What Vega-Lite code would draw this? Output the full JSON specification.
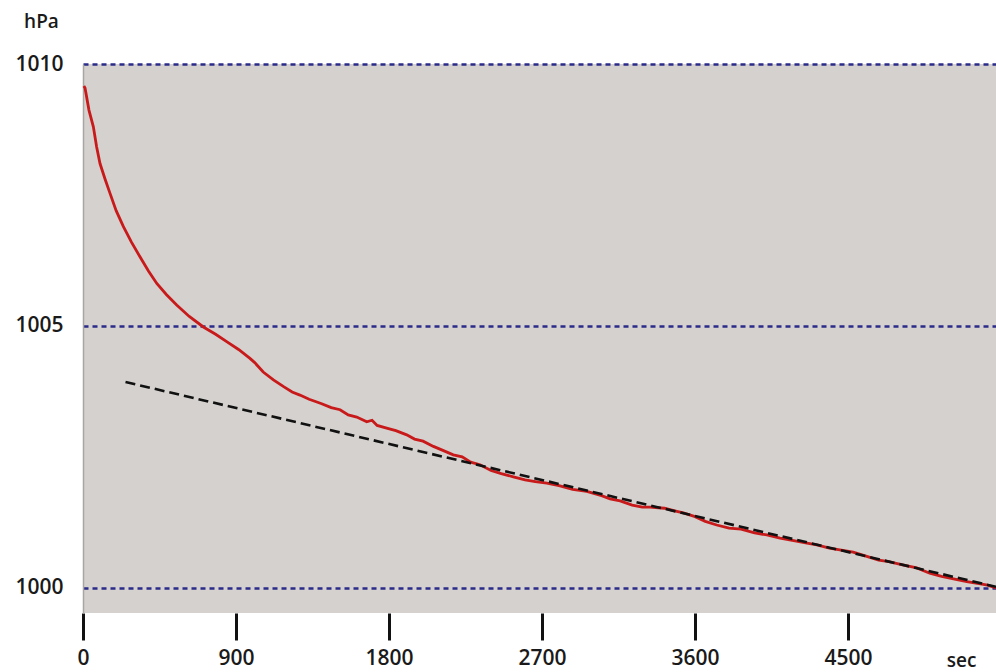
{
  "$schema": "https://vega.github.io/schema/vega-lite/v6.json",
  "width": 913,
  "height": 549,
  "autosize": {"type": "none"},
  "padding": {"left": 83, "top": 64, "right": 0, "bottom": 59},
  "background": "white",
  "view": {"fill": "#d4d1ce", "stroke": null},
  "config": {
    "font": "Open Sans",
    "axis": {"labelFont": "Open Sans", "labelFontWeight": 600, "labelFontSize": 21, "labelColor": "#1a1a1a", "titleFont": "Open Sans", "titleFontWeight": 600, "titleFontSize": 19, "titleColor": "#1a1a1a"}
  },
  "datasets": {
    "curve": [
      {"t": 5, "p": 1009.58}, {"t": 12, "p": 1009.54}, {"t": 35, "p": 1009.12}, {"t": 61, "p": 1008.80}, {"t": 80, "p": 1008.42},
      {"t": 100, "p": 1008.10}, {"t": 130, "p": 1007.80}, {"t": 159, "p": 1007.53}, {"t": 195, "p": 1007.20}, {"t": 237, "p": 1006.90},
      {"t": 285, "p": 1006.60}, {"t": 335, "p": 1006.32}, {"t": 385, "p": 1006.05}, {"t": 434, "p": 1005.81}, {"t": 490, "p": 1005.60},
      {"t": 551, "p": 1005.40}, {"t": 625, "p": 1005.18}, {"t": 708, "p": 1004.98}, {"t": 780, "p": 1004.84}, {"t": 845, "p": 1004.70},
      {"t": 915, "p": 1004.55}, {"t": 982, "p": 1004.38}, {"t": 1010, "p": 1004.30}, {"t": 1060, "p": 1004.12}, {"t": 1120, "p": 1003.97},
      {"t": 1180, "p": 1003.84}, {"t": 1230, "p": 1003.74}, {"t": 1276, "p": 1003.68}, {"t": 1330, "p": 1003.60}, {"t": 1400, "p": 1003.52},
      {"t": 1460, "p": 1003.44}, {"t": 1512, "p": 1003.40}, {"t": 1560, "p": 1003.30}, {"t": 1610, "p": 1003.26}, {"t": 1669, "p": 1003.17},
      {"t": 1700, "p": 1003.20}, {"t": 1730, "p": 1003.10}, {"t": 1786, "p": 1003.05}, {"t": 1840, "p": 1003.00}, {"t": 1904, "p": 1002.92},
      {"t": 1950, "p": 1002.84}, {"t": 2000, "p": 1002.80}, {"t": 2061, "p": 1002.70}, {"t": 2120, "p": 1002.62}, {"t": 2178, "p": 1002.54},
      {"t": 2230, "p": 1002.50}, {"t": 2280, "p": 1002.40}, {"t": 2335, "p": 1002.35}, {"t": 2400, "p": 1002.24}, {"t": 2460, "p": 1002.18},
      {"t": 2531, "p": 1002.12}, {"t": 2600, "p": 1002.06}, {"t": 2660, "p": 1002.03}, {"t": 2728, "p": 1002.00}, {"t": 2800, "p": 1001.95},
      {"t": 2880, "p": 1001.88}, {"t": 2963, "p": 1001.84}, {"t": 3050, "p": 1001.76}, {"t": 3100, "p": 1001.70}, {"t": 3159, "p": 1001.66},
      {"t": 3230, "p": 1001.58}, {"t": 3290, "p": 1001.54}, {"t": 3335, "p": 1001.54}, {"t": 3420, "p": 1001.52}, {"t": 3480, "p": 1001.47},
      {"t": 3531, "p": 1001.43}, {"t": 3600, "p": 1001.36}, {"t": 3660, "p": 1001.27}, {"t": 3727, "p": 1001.20}, {"t": 3800, "p": 1001.14},
      {"t": 3870, "p": 1001.12}, {"t": 3950, "p": 1001.05}, {"t": 4022, "p": 1001.01}, {"t": 4100, "p": 1000.95}, {"t": 4180, "p": 1000.90},
      {"t": 4250, "p": 1000.86}, {"t": 4316, "p": 1000.82}, {"t": 4390, "p": 1000.76}, {"t": 4460, "p": 1000.72}, {"t": 4530, "p": 1000.68},
      {"t": 4610, "p": 1000.60}, {"t": 4680, "p": 1000.53}, {"t": 4740, "p": 1000.50}, {"t": 4820, "p": 1000.44}, {"t": 4904, "p": 1000.38},
      {"t": 4980, "p": 1000.28}, {"t": 5050, "p": 1000.22}, {"t": 5120, "p": 1000.17}, {"t": 5198, "p": 1000.12}, {"t": 5270, "p": 1000.08},
      {"t": 5320, "p": 1000.05}, {"t": 5370, "p": 1000.00}
    ],
    "trend": [
      {"t": 250, "p": 1003.93}, {"t": 5370, "p": 1000.02}
    ]
  },
  "encoding": {
    "x": {
      "field": "t", "type": "quantitative",
      "scale": {"domain": [0, 5370], "nice": false, "zero": false},
      "axis": {
        "values": [0, 900, 1800, 2700, 3600, 4500],
        "format": "d",
        "title": "sec", "titleAnchor": "end", "titleAlign": "right", "titleBaseline": "middle",
        "titleX": 893, "titleY": 47,
        "domain": false, "grid": false,
        "tickSize": 27, "tickWidth": 3, "tickColor": "#111111",
        "labelPadding": 7, "labelFlush": false
      }
    },
    "y": {
      "field": "p", "type": "quantitative",
      "scale": {"domain": [999.52, 1010], "nice": false, "zero": false},
      "axis": {
        "values": [1000, 1005, 1010],
        "format": "d",
        "title": "hPa", "titleAngle": 0, "titleAlign": "center", "titleBaseline": "alphabetic",
        "titleX": -42, "titleY": -37,
        "ticks": false, "domain": true, "domainColor": "#a8a6a4", "domainWidth": 1.5,
        "grid": true, "gridColor": "#2b2b8a", "gridDash": [5, 4], "gridWidth": 2.5, "gridOpacity": 1,
        "labelPadding": 20, "labelFlush": false
      }
    }
  },
  "layer": [
    {
      "data": {"name": "curve"},
      "mark": {"type": "line", "color": "#c81a1a", "strokeWidth": 2.8},
      "encoding": {}
    },
    {
      "data": {"name": "trend"},
      "mark": {"type": "line", "color": "#111111", "strokeWidth": 2.6, "strokeDash": [10, 5]},
      "encoding": {}
    }
  ]
}
